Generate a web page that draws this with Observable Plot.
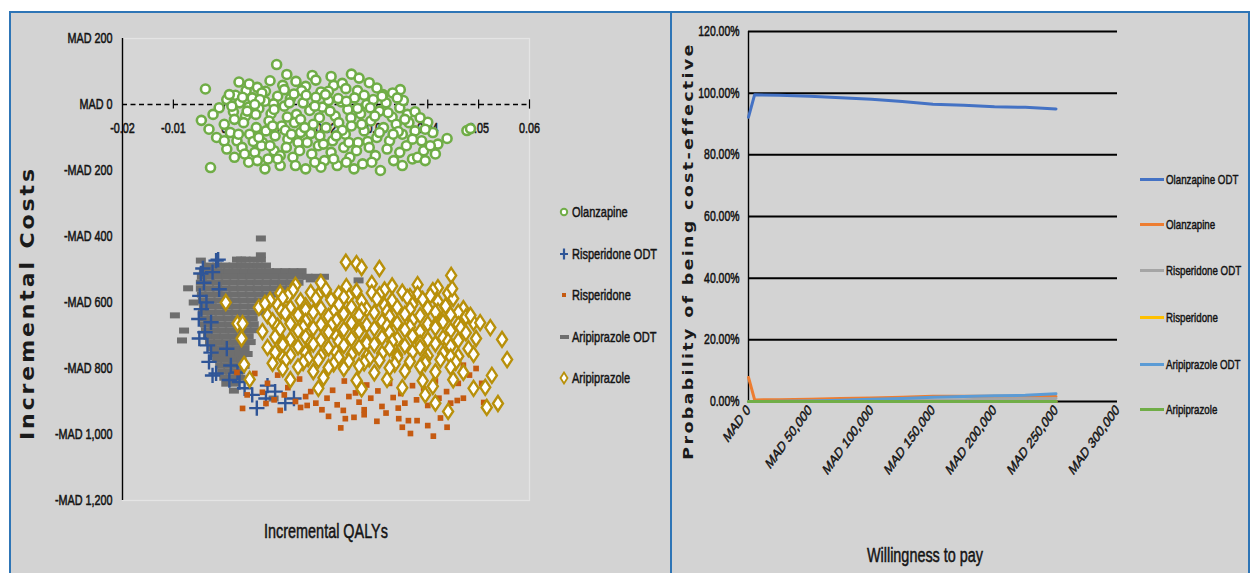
<!DOCTYPE html>
<html><head><meta charset="utf-8">
<script src="https://cdn.jsdelivr.net/npm/d3@7"></script>
<script src="https://cdn.jsdelivr.net/npm/@observablehq/plot@0.6"></script>
<style>
html,body{margin:0;padding:0;background:#fff;}
body{width:1250px;height:573px;overflow:hidden;position:relative;font-family:"Liberation Sans",Arial,sans-serif;color:#141414;}
.panel{position:absolute;background:#d3d3d3;box-sizing:border-box;border-top:2px solid #2e75b6;}
.abs{position:absolute;}
.title{position:absolute;white-space:nowrap;transform:translate(-50%,-50%) scaleX(0.72);-webkit-text-stroke:0.5px #141414;}
.vtitle{position:absolute;white-space:nowrap;transform:translate(-50%,-50%) scaleX(0.85) rotate(-90deg);font-family:"DejaVu Sans",Verdana,sans-serif;font-weight:bold;color:#1a1a1a;}
.leg{position:absolute;white-space:nowrap;display:flex;align-items:center;}
.leg span.t{display:inline-block;transform:scaleX(0.72);transform-origin:left center;-webkit-text-stroke:0.5px #141414;}
</style>
</head><body>
<div class="panel" style="left:9px;top:11px;width:663px;height:562px;border-left:2px solid #2e75b6;border-right:2px solid #2e75b6;"></div>
<div class="panel" style="left:672px;top:11px;width:578px;height:562px;border-right:2px solid #2e75b6;"></div>
<div id="left" class="abs" style="left:12px;top:13px;"></div>
<div id="right" class="abs" style="left:673px;top:13px;"></div>
<div class="vtitle" style="left:28px;top:303px;font-size:22px;letter-spacing:2.9px;">Incremental Costs</div>
<div class="title" style="left:326px;top:531px;font-size:20px;">Incremental QALYs</div>
<div class="vtitle" style="left:688px;top:251px;font-size:17.5px;letter-spacing:2.3px;">Probability of being cost-effective</div>
<div class="title" style="left:925px;top:555px;font-size:20px;">Willingness to pay</div>
<div id="legL"></div>
<div id="legR"></div>
<script>
// ---------- Left panel: cost-effectiveness plane (incremental QALY, incremental cost in MAD) ----------
const qalyTicks = [-0.02, -0.01, 0, 0.01, 0.02, 0.03, 0.04, 0.05, 0.06];
const costTicks = [200, 0, -200, -400, -600, -800, -1000, -1200];

const olanzapine = [
[0.0103,121],[0.0123,91],[0.0250,92],[-0.0037,47],[0.0346,45],[0.0029,68],[0.0043,42],[0.0173,88],[0.0180,74],[0.0215,58],
[0.0049,62],[0.0081,40],[0.0141,70],[0.0160,55],[0.0205,40],[0.0232,64],[0.0239,48],[0.0285,66],[0.0331,35],[0.0065,52],
[0.0115,58],[0.0190,38],[0.0262,42],[0.0300,50],[0.0022,28],[0.0152,42],[0.0090,72],[0.0312,30],
[-0.0045,-48],[-0.0010,-10],[0.0005,15],[0.0018,-22],[0.0030,5],[0.0042,-35],[0.0055,20],[0.0068,-12],[0.0080,10],[0.0092,-28],
[0.0105,25],[0.0118,-5],[0.0130,18],[0.0142,-30],[0.0155,5],[0.0168,-18],[0.0180,22],[0.0193,-8],[0.0205,12],[0.0218,-35],
[0.0230,8],[0.0243,-15],[0.0256,20],[0.0268,-28],[0.0280,0],[0.0293,15],[0.0305,-20],[0.0318,5],[0.0330,-38],[0.0345,-10],
[0.0360,-30],[0.0010,30],[0.0074,35],[0.0137,32],[0.0199,30],[0.0275,28],[0.0062,-30],[0.0124,-38],[0.0187,-40],[0.0249,-40],
[0.0310,25],[-0.0022,-30],[0.0036,22],[0.0097,2],[0.0161,28],[0.0224,18],[0.0287,-10],[0.0352,12],[0.0375,-22],[0.0048,-8],
[-0.0030,-75],[-0.0015,-100],[0.0000,-60],[0.0012,-85],[0.0025,-110],[0.0038,-55],[0.0050,-90],[0.0063,-70],[0.0075,-115],[0.0088,-50],
[0.0100,-95],[0.0113,-65],[0.0125,-105],[0.0138,-55],[0.0150,-85],[0.0163,-115],[0.0175,-60],[0.0188,-95],[0.0200,-70],[0.0213,-110],
[0.0225,-55],[0.0238,-90],[0.0250,-65],[0.0263,-115],[0.0275,-80],[0.0288,-50],[0.0300,-100],[0.0313,-70],[0.0325,-110],[0.0338,-60],
[0.0350,-90],[0.0363,-55],[0.0375,-80],[0.0388,-110],[0.0400,-54],[0.0410,-85],[0.0438,-103],[0.0477,-79],[0.0484,-73],[0.0057,-112],
[0.0170,-88],[0.0282,-112],[0.0395,-75],[0.0020,-45],[0.0145,-115],[0.0082,-80],[0.0232,-78],[0.0342,-82],[0.0120,-78],[0.0420,-120],
[-0.0027,-191],[0.0005,-135],[0.0020,-160],[0.0035,-130],[0.0048,-175],[0.0060,-145],[0.0073,-125],[0.0086,-165],[0.0098,-140],[0.0110,-185],
[0.0122,-130],[0.0135,-160],[0.0148,-140],[0.0160,-195],[0.0172,-150],[0.0185,-125],[0.0197,-170],[0.0210,-145],[0.0222,-185],[0.0235,-130],
[0.0247,-160],[0.0260,-140],[0.0272,-180],[0.0285,-130],[0.0297,-155],[0.0307,-200],[0.0320,-135],[0.0333,-170],[0.0345,-145],[0.0358,-125],
[0.0370,-165],[0.0380,-160],[0.0392,-140],[0.0405,-125],[0.0415,-150],[0.0080,-195],[0.0190,-190],[0.0090,-125],[0.0255,-195],[0.0110,-155],
[0.0015,-5],[0.0045,-20],[0.0070,15],[0.0098,-15],[0.0128,5],[0.0150,-45],[0.0178,-5],[0.0208,-20],[0.0240,10],[0.0262,-12],
[0.0296,-35],[0.0322,-25],[0.0355,-45],[0.0385,-40],[0.0028,-90],[0.0068,-100],[0.0095,-65],[0.0132,-90],[0.0158,-70],[0.0195,-120],
[0.0220,-95],[0.0245,-115],[0.0270,-60],[0.0305,-85],[0.0332,-90],[0.0370,-105],[0.0040,-150],[0.0065,-170],[0.0105,-165],[0.0140,-185],
[0.0178,-175],[0.0215,-165],[0.0240,-175],[0.0290,-175],[0.0350,-185],[0.0395,-170],[0.0000,-110],[0.0118,45],[0.0210,85],[0.0265,80],
[0.0060,0],[0.0340,20]
];

const aripiprazoleODTRows = [
 {cost:-470, q:[0.0025,0.0042,0.0058,0.0072]},
 {cost:-488, q:[-0.0030,-0.0014,0.0002,0.0018,0.0034,0.0050,0.0066,0.0082]},
 {cost:-505, q:[-0.0040,-0.0024,-0.0008,0.0008,0.0024,0.0040,0.0056,0.0072,0.0088,0.0104,0.0120,0.0136,0.0152]},
 {cost:-522, q:[-0.0044,-0.0028,-0.0012,0.0004,0.0020,0.0036,0.0052,0.0068,0.0084,0.0100,0.0116,0.0132,0.0148,0.0164,0.0180,0.0196]},
 {cost:-540, q:[-0.0046,-0.0030,-0.0014,0.0002,0.0018,0.0034,0.0050,0.0066,0.0082,0.0098,0.0114,0.0130,0.0146]},
 {cost:-558, q:[-0.0046,-0.0030,-0.0014,0.0002,0.0018,0.0034,0.0050,0.0066,0.0082,0.0098,0.0114,0.0130]},
 {cost:-576, q:[-0.0044,-0.0028,-0.0012,0.0004,0.0020,0.0036,0.0052,0.0068,0.0084,0.0100]},
 {cost:-594, q:[-0.0042,-0.0026,-0.0010,0.0006,0.0022,0.0038,0.0054,0.0070,0.0086]},
 {cost:-612, q:[-0.0040,-0.0024,-0.0008,0.0008,0.0024,0.0040,0.0056,0.0072]},
 {cost:-630, q:[-0.0042,-0.0026,-0.0010,0.0006,0.0022,0.0038,0.0054,0.0070]},
 {cost:-648, q:[-0.0040,-0.0024,-0.0008,0.0008,0.0024,0.0040,0.0056]},
 {cost:-666, q:[-0.0038,-0.0022,-0.0006,0.0010,0.0026,0.0042,0.0058]},
 {cost:-684, q:[-0.0036,-0.0020,-0.0004,0.0012,0.0028,0.0044,0.0060]},
 {cost:-702, q:[-0.0032,-0.0016,0.0000,0.0016,0.0032,0.0048]},
 {cost:-720, q:[-0.0028,-0.0012,0.0004,0.0020,0.0036,0.0052]},
 {cost:-738, q:[-0.0024,-0.0008,0.0008,0.0024,0.0040]},
 {cost:-756, q:[-0.0018,-0.0002,0.0014,0.0030,0.0046]},
 {cost:-774, q:[-0.0014,0.0002,0.0018,0.0034]},
 {cost:-792, q:[-0.0008,0.0008,0.0024,0.0040]},
 {cost:-810, q:[-0.0004,0.0012,0.0028]},
 {cost:-828, q:[0.0000,0.0016,0.0032]},
 {cost:-846, q:[0.0004,0.0020]}
];
const aripiprazoleODTOutliers = [[0.0072,-406],[0.0072,-457],[-0.0097,-639],[-0.0079,-685],[-0.0083,-715],[-0.0071,-557],[-0.0046,-473],[0.0033,-470],[0.0019,-867],[0.0097,-891],[-0.0060,-600],[0.0170,-530],[0.0264,-533]];

const risperidoneODT = [
[-0.0016,-473],[-0.0042,-497],[-0.0046,-512],[-0.0023,-508],[-0.0040,-540],[-0.0049,-709],[-0.0026,-752],[-0.0023,-821],[-0.0016,-815],[0.0013,-791],
[0.0026,-812],[0.0030,-841],[0.0064,-920],[0.0082,-891],[0.0137,-891],[0.0085,-852],[-0.0026,-660],[-0.0033,-730],[-0.0048,-580],[-0.0045,-620],
[-0.0050,-650],[-0.0038,-690],[-0.0030,-780],[-0.0010,-560],[0.0005,-740],[0.0040,-860],[0.0055,-880],[0.0100,-870],[0.0120,-905],[-0.0012,-470],
[-0.0035,-600],[0.0010,-835]
];

const risperidone = [
[0.0060,-815],[0.0085,-845],[0.0105,-820],[0.0125,-858],[0.0148,-832],[0.0170,-870],[0.0192,-842],[0.0213,-866],[0.0236,-838],[0.0258,-874],
[0.0280,-850],[0.0302,-868],[0.0325,-845],[0.0347,-876],[0.0370,-852],[0.0392,-862],[0.0415,-838],[0.0437,-870],[0.0460,-845],[0.0482,-820],
[0.0495,-800],[0.0470,-790],[0.0445,-805],
[0.0045,-880],[0.0075,-872],[0.0098,-895],[0.0118,-880],[0.0140,-900],[0.0160,-885],[0.0180,-905],[0.0202,-890],[0.0222,-910],[0.0245,-885],
[0.0265,-902],[0.0288,-890],[0.0310,-915],[0.0332,-888],[0.0355,-905],[0.0378,-895],[0.0400,-912],[0.0422,-890],[0.0445,-905],[0.0458,-897],
[0.0470,-890],[0.0510,-903],[0.0506,-845],[0.0192,-925],[0.0150,-918],[0.0275,-925],[0.0342,-920],
[0.0036,-921],[0.0082,-906],[0.0110,-927],[0.0163,-912],[0.0229,-980],[0.0238,-952],[0.0255,-948],[0.0275,-940],[0.0234,-927],[0.0343,-952],
[0.0350,-978],[0.0362,-958],[0.0379,-958],[0.0400,-973],[0.0366,-997],[0.0411,-1005],[0.0438,-978],[0.0438,-932],[0.0300,-960],[0.0318,-935],
[0.0425,-950],[0.0205,-945],[0.0025,-812]
];

const aripiprazole = [
[0.014,-548],[0.019,-540],[0.024,-552],[0.029,-543],[0.033,-550],[0.038,-546],[0.042,-555],
[0.011,-572],[0.0135,-563],[0.017,-570],[0.020,-561],[0.0225,-574],[0.026,-566],[0.029,-571],[0.0315,-562],[0.035,-569],[0.038,-575],[0.041,-564],[0.044,-572],
[0.0125,-580],[0.0185,-578],[0.0245,-583],[0.0305,-577],[0.0365,-582],[0.0405,-579],
[0.009,-593],[0.0115,-586],[0.015,-595],[0.018,-588],[0.021,-592],[0.0235,-584],[0.027,-596],[0.030,-589],[0.033,-594],[0.036,-585],[0.039,-591],[0.042,-597],[0.045,-588],
[0.0105,-608],[0.013,-616],[0.016,-610],[0.019,-618],[0.0225,-607],[0.025,-614],[0.028,-620],[0.0315,-609],[0.034,-615],[0.037,-606],[0.040,-617],[0.0435,-611],[0.047,-619],
[0.0112,-625],[0.016,-622],[0.0215,-628],[0.027,-624],[0.032,-627],[0.0365,-621],[0.042,-626],[0.046,-630],
[0.0085,-640],[0.012,-632],[0.0145,-638],[0.0175,-630],[0.0205,-642],[0.0235,-634],[0.0265,-639],[0.0295,-631],[0.0325,-643],[0.0355,-635],[0.0385,-640],[0.0415,-629],[0.0445,-637],[0.0475,-644],
[0.0095,-656],[0.013,-664],[0.016,-657],[0.019,-666],[0.022,-655],[0.025,-662],[0.028,-668],[0.031,-658],[0.034,-663],[0.037,-654],[0.040,-665],[0.043,-659],[0.046,-667],[0.049,-661],
[0.0105,-672],[0.0155,-675],[0.021,-670],[0.0265,-676],[0.032,-671],[0.0365,-674],[0.0415,-669],[0.0465,-677],
[0.0075,-688],[0.011,-680],[0.0145,-686],[0.0175,-678],[0.0205,-690],[0.0235,-682],[0.0265,-687],[0.0295,-679],[0.0325,-691],[0.0355,-683],[0.0385,-688],[0.0415,-677],[0.0445,-685],[0.0475,-692],
[0.010,-704],[0.013,-712],[0.016,-705],[0.019,-714],[0.022,-703],[0.025,-710],[0.028,-716],[0.031,-706],[0.034,-711],[0.037,-702],[0.040,-713],[0.043,-707],[0.046,-715],[0.0495,-709],
[0.0115,-720],[0.017,-722],[0.0225,-718],[0.028,-724],[0.033,-719],[0.0385,-723],[0.044,-717],
[0.0085,-736],[0.0115,-728],[0.0145,-734],[0.0175,-726],[0.0205,-738],[0.0235,-730],[0.0265,-735],[0.0295,-727],[0.0325,-739],[0.0355,-731],[0.0385,-736],[0.0415,-725],[0.0445,-733],[0.048,-740],
[0.010,-752],[0.013,-760],[0.016,-753],[0.019,-762],[0.022,-751],[0.025,-758],[0.028,-764],[0.031,-754],[0.034,-759],[0.037,-750],[0.040,-761],[0.043,-755],[0.046,-763],[0.049,-757],
[0.0115,-768],[0.0165,-770],[0.0225,-766],[0.0285,-771],[0.034,-767],[0.0395,-772],[0.0445,-765],
[0.0095,-784],[0.012,-776],[0.0155,-782],[0.0185,-774],[0.0215,-786],[0.0245,-778],[0.0275,-783],[0.0305,-775],[0.0335,-787],[0.0365,-779],[0.0395,-784],[0.0425,-773],[0.0455,-781],
[0.0145,-795],[0.0205,-797],[0.0265,-792],[0.0325,-798],[0.0385,-794],[0.0445,-796],
[0.0115,-801],[0.0175,-809],[0.0235,-800],[0.0295,-813],[0.0355,-808],[0.0415,-810],[0.047,-812],
[0.013,-834],[0.0195,-828],[0.026,-836],[0.032,-833],[0.039,-837],[0.045,-834],
[0.0185,-860],[0.027,-862],[0.035,-858],[0.041,-854],
[0.0003,-600],[0.0026,-664],[0.0036,-664],[0.0034,-709],[0.0039,-788],[0.0050,-833],[0.0068,-615],[0.0080,-603],[0.0239,-478],[0.0260,-482],
[0.0270,-494],[0.0305,-497],[0.0446,-518],[0.0448,-558],[0.0484,-639],[0.0503,-661],[0.0523,-676],[0.0546,-712],[0.0556,-773],[0.0526,-821],
[0.0513,-857],[0.0516,-918],[0.0538,-906],[0.0440,-930],[0.0415,-905],[0.0395,-880],[0.0490,-860]
];

// ---------- Right panel: cost-effectiveness acceptability curves (%) ----------
const wtp = [0, 5000, 25000, 50000, 75000, 100000, 125000, 150000, 175000, 200000, 225000, 250000];
const pOlanzapineODT   = [92.2, 99.5, 99.3, 99.0, 98.5, 98.0, 97.3, 96.4, 96.1, 95.6, 95.4, 94.9];
const pOlanzapine      = [7.8, 0.5, 0.6, 0.7, 1.0, 1.1, 1.4, 1.7, 1.7, 1.7, 1.7, 1.6];
const pRisperidoneODT  = [0, 0, 0, 0.1, 0.1, 0.2, 0.3, 0.5, 0.6, 0.8, 0.9, 1.0];
const pRisperidone     = [0, 0, 0, 0, 0, 0, 0, 0, 0, 0, 0, 0];
const pAripiprazoleODT = [0, 0, 0.1, 0.2, 0.4, 0.7, 1.0, 1.4, 1.6, 1.9, 2.0, 2.5];
const pAripiprazole    = [0, 0, 0, 0, 0, 0, 0, 0, 0, 0, 0, 0];
const probTicks = [0, 20, 40, 60, 80, 100, 120];
const wtpTicks = [0, 50000, 100000, 150000, 200000, 250000, 300000];

const ceacSeries = [
  {name: "Olanzapine ODT",   color: "#4472c4", p: pOlanzapineODT},
  {name: "Olanzapine",       color: "#ed7d31", p: pOlanzapine},
  {name: "Risperidone ODT",  color: "#a5a5a5", p: pRisperidoneODT},
  {name: "Risperidone",      color: "#ffc000", p: pRisperidone},
  {name: "Aripiprazole ODT", color: "#5b9bd5", p: pAripiprazoleODT},
  {name: "Aripiprazole",     color: "#70ad47", p: pAripiprazole}
];

const FONT = '"Liberation Sans",Arial,sans-serif';
const SQ = 0.72; // horizontal text compression seen in the reference
const fmtMAD = d => (d < 0 ? "-" : "") + "MAD " + d3.format(",")(Math.abs(d));

function squeeze(svg) {
  svg.querySelectorAll("text").forEach(t => {
    t.setAttribute("stroke", "#141414");
    t.setAttribute("stroke-width", "0.55");
    const tr = t.getAttribute("transform");
    if (tr) {
      if (tr.includes("rotate(")) t.setAttribute("transform", tr.replace("rotate(", `scale(${SQ},1) rotate(`));
      else t.setAttribute("transform", tr + ` scale(${SQ},1)`);
    } else {
      const x = +t.getAttribute("x") || 0, y = +t.getAttribute("y") || 0;
      t.removeAttribute("x"); t.removeAttribute("y");
      t.setAttribute("transform", `translate(${x},${y}) scale(${SQ},1)`);
    }
  });
}

const toPts = arr => arr.map(([q, c]) => ({q, c}));
const ariODTPts = aripiprazoleODTRows.flatMap(r => r.q.map(q => ({q, c: r.cost}))).concat(toPts(aripiprazoleODTOutliers));

const dashSym = {draw(ctx){ ctx.rect(-5, -3, 10, 6); }};
const diamondSym = {draw(ctx){ ctx.moveTo(0,-7.5); ctx.lineTo(5,0); ctx.lineTo(0,7.5); ctx.lineTo(-5,0); ctx.closePath(); }};

const COL = {olz:"#70ad47", risODT:"#2f5597", ris:"#c55a11", ariODT:"#6e6e6e", ari:"#b8900a"};

const leftPlot = Plot.plot({
  width: 656, height: 560,
  marginLeft: 110, marginRight: 139, marginTop: 25, marginBottom: 73,
  x: {domain: [-0.02, 0.06], axis: null, label: null},
  y: {domain: [-1200, 200], axis: null, label: null},
  style: {background: "transparent", fontFamily: FONT, fontSize: "15px", color: "#141414", overflow: "visible"},
  marks: [
    Plot.frame({fill: "#d6d6d6", stroke: "#e4e4e4", strokeWidth: 1.2}),
    Plot.axisY({ticks: costTicks, label: null, tickSize: 0, tickPadding: 10, tickFormat: fmtMAD, fontSize: 15, fill: "#141414"}),
    Plot.ruleX([-0.02], {y1: -1200, y2: 200, stroke: "#000", strokeWidth: 1.4}),
    Plot.ruleY([0], {x1: -0.02, x2: 0.06, stroke: "#000", strokeWidth: 1.6, strokeDasharray: "5,3.5"}),
    Plot.ruleX(qalyTicks.slice(1), {y1: -14, y2: 14, stroke: "#000", strokeWidth: 1.2}),
    Plot.text(qalyTicks, {x: d => d, y: 0, dy: 24, text: d => String(d), fontSize: 15, fill: "#141414"}),
    Plot.dot(ariODTPts, {x: "q", y: "c", symbol: dashSym, fill: COL.ariODT, stroke: "none"}),
    Plot.dot(toPts(risperidoneODT), {x: "q", y: "c", symbol: "plus", r: 5, stroke: COL.risODT, strokeWidth: 2.4}),
    Plot.dot(toPts(risperidone), {x: "q", y: "c", symbol: "square", r: 3.2, fill: COL.ris, stroke: "none"}),
    Plot.dot(toPts(aripiprazole), {x: "q", y: "c", symbol: diamondSym, fill: "#fff", stroke: COL.ari, strokeWidth: 2.4}),
    Plot.dot(toPts(olanzapine), {x: "q", y: "c", r: 4.5, fill: "#fff", stroke: COL.olz, strokeWidth: 2.6})
  ]
});
squeeze(leftPlot);
document.getElementById("left").appendChild(leftPlot);

const ceacData = ceacSeries.flatMap(s => wtp.map((w, i) => ({name: s.name, w, p: s.p[i]})));
const rightPlot = Plot.plot({
  width: 575, height: 560,
  marginLeft: 75, marginRight: 131, marginTop: 18, marginBottom: 172,
  x: {domain: [0, 300000], axis: null, label: null},
  y: {domain: [0, 120], axis: null, label: null},
  style: {background: "transparent", fontFamily: FONT, fontSize: "15px", color: "#141414", overflow: "visible"},
  marks: [
    Plot.ruleY(probTicks, {x1: 0, x2: 300000, stroke: "#000", strokeWidth: 2}),
    Plot.ruleX([0], {y1: 0, y2: 120, stroke: "#000", strokeWidth: 1.4}),
    Plot.axisY({ticks: probTicks, label: null, tickSize: 0, tickPadding: 9, tickFormat: d => d.toFixed(2) + "%", fontSize: 14.5, fill: "#141414"}),
    Plot.axisX({ticks: wtpTicks, label: null, tickSize: 0, tickPadding: 6, tickRotate: -45, tickFormat: d => "MAD " + d3.format(",")(d), fontSize: 15, fill: "#141414"}),
    ...ceacSeries.map(s => Plot.line(ceacData.filter(d => d.name === s.name), {x: "w", y: "p", stroke: s.color, strokeWidth: 3}))
  ]
});
squeeze(rightPlot);
document.getElementById("right").appendChild(rightPlot);

// ---------- Legends ----------
const legL = document.getElementById("legL");
const legItems = [
  {name: "Olanzapine", svg: `<circle cx="6" cy="7" r="3.2" fill="#fff" stroke="${COL.olz}" stroke-width="2"/>`},
  {name: "Risperidone ODT", svg: `<path d="M6,1.5V12.5M2,7H10" stroke="${COL.risODT}" stroke-width="2.2"/>`},
  {name: "Risperidone", svg: `<rect x="4" y="5" width="4" height="4" fill="${COL.ris}"/>`},
  {name: "Aripiprazole ODT", svg: `<rect x="2" y="5" width="9" height="4" fill="${COL.ariODT}"/>`},
  {name: "Aripiprazole", svg: `<path d="M6,1.5L9.5,7L6,12.5L2.5,7Z" fill="#fff" stroke="${COL.ari}" stroke-width="1.8"/>`}
];
const legLY = [212, 254, 295, 337, 378];
legItems.forEach((it, i) => {
  const d = document.createElement("div");
  d.className = "leg";
  d.style.left = "558px"; d.style.top = (legLY[i] - 10) + "px"; d.style.height = "20px"; d.style.fontSize = "15.3px";
  d.innerHTML = `<svg width="13" height="14" style="margin-right:1px">${it.svg}</svg><span class="t">${it.name}</span>`;
  legL.appendChild(d);
});
const legR = document.getElementById("legR");
const legRY = [179, 224, 270, 317, 364, 409];
ceacSeries.forEach((s, i) => {
  const d = document.createElement("div");
  d.className = "leg";
  d.style.left = "1140px"; d.style.top = (legRY[i] - 10) + "px"; d.style.height = "20px"; d.style.fontSize = "13.5px";
  d.innerHTML = `<span style="display:inline-block;width:24px;height:3px;background:${s.color};margin-right:2px"></span><span class="t">${s.name}</span>`;
  legR.appendChild(d);
});
</script>
</body></html>
